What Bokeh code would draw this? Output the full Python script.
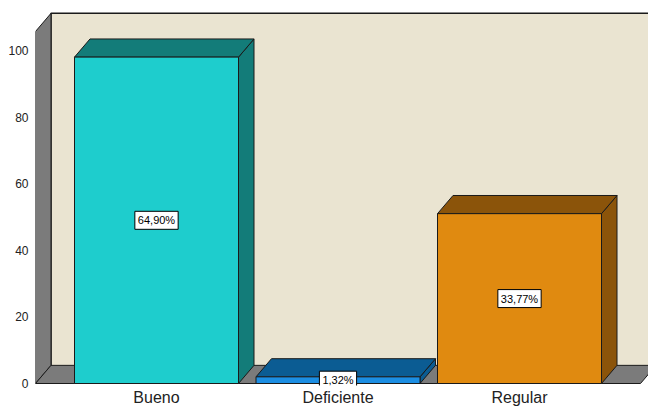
from bokeh.plotting import figure
from bokeh.models import Range1d, FixedTicker, ColumnDataSource
from bokeh.core.properties import value
from bokeh.embed import file_html
from bokeh.resources import INLINE

# ---- data ----
categories = ["Bueno", "Deficiente", "Regular"]
counts = [98, 2, 51]
y_ticks = [0, 20, 40, 60, 80, 100]
front_colors = ["#1ECDCD", "#1C8EE3", "#E08A10"]
dark_colors = ["#137C79", "#0B5C93", "#8B540A"]

total = sum(counts)
pct_labels = [("%.2f" % (c / total * 100)).replace(".", ",") + "%" for c in counts]

# ---- layout constants (pixel-based x, value-based y) ----
W, H = 648, 408
left_px = 35
zero_px = 384          # pixel row of value 0
bottom_px = 22
ymax = 115.0
px_per_unit = zero_px / ymax
ymin = -((H - bottom_px) - zero_px) / px_per_unit
dx = 15.5                    # depth offset in x (pixels)
dy = 18.2 / px_per_unit      # depth offset in y (value units)
wall_top = 105.7
bar_w = 164
first_center = 156
spacing = 181.5

p = figure(width=W, height=H, output_backend="svg", toolbar_location=None,
           x_range=Range1d(left_px, W), y_range=Range1d(ymin, ymax),
           min_border_left=left_px, min_border_right=0, min_border_top=0,
           min_border_bottom=bottom_px, outline_line_color=None,
           background_fill_color="white", border_fill_color="white")
p.grid.visible = False

line_c = "#1A1A1A"
wall_c = "#7B7B7B"
back_c = "#EAE4D1"

# back wall
x_back = left_px + dx
p.patch([x_back, W + 20, W + 20, x_back],
        [dy, dy, wall_top + dy, wall_top + dy],
        fill_color=back_c, line_color=None)
p.line([x_back, x_back, W + 20], [dy, wall_top + dy, wall_top + dy],
       line_color=line_c, line_width=1.5)
# left wall
p.patch([left_px, left_px, x_back, x_back], [0, wall_top, wall_top + dy, dy],
        fill_color=wall_c, line_color=line_c, line_width=1)
# floor
floor_right = 640
p.patch([left_px, floor_right, floor_right + dx, x_back], [0, 0, dy, dy],
        fill_color=wall_c, line_color=line_c, line_width=1)

centers = [first_center + i * spacing for i in range(len(categories))]
for c, v, fc, dc in zip(centers, counts, front_colors, dark_colors):
    xl, xr = c - bar_w / 2, c + bar_w / 2
    # side
    p.patch([xr, xr + dx, xr + dx, xr], [0, dy, v + dy, v],
            fill_color=dc, line_color=line_c, line_width=1)
    # top
    p.patch([xl, xr, xr + dx, xl + dx], [v, v, v + dy, v + dy],
            fill_color=dc, line_color=line_c, line_width=1)
    # front
    p.patch([xl, xr, xr, xl], [0, 0, v, v],
            fill_color=fc, line_color=line_c, line_width=1)

src = ColumnDataSource(dict(x=centers, y=[v / 2 for v in counts], t=pct_labels))
p.text(x="x", y="y", text="t", source=src, text_align="center",
       text_baseline="middle", text_font=value("Liberation Sans"),
       text_font_size="11px", text_color="black",
       background_fill_color="white", border_line_color="black",
       border_line_width=1, padding=3)

# axes
p.yaxis.ticker = FixedTicker(ticks=y_ticks)
p.yaxis.axis_line_color = None
p.yaxis.major_tick_line_color = None
p.yaxis.major_tick_out = 0
p.yaxis.major_tick_in = 0
p.yaxis.minor_tick_line_color = None
p.yaxis.major_label_standoff = 7
p.yaxis.major_label_text_font = "Liberation Sans"
p.yaxis.major_label_text_font_size = "12px"
p.yaxis.major_label_text_color = "#222222"

p.xaxis.ticker = FixedTicker(ticks=centers)
p.xaxis.major_label_overrides = {c: cat for c, cat in zip(centers, categories)}
p.xaxis.axis_line_color = None
p.xaxis.major_tick_line_color = None
p.xaxis.major_tick_out = 0
p.xaxis.major_tick_in = 0
p.xaxis.minor_tick_line_color = None
p.xaxis.major_label_standoff = 3
p.xaxis.major_label_text_font = "Liberation Sans"
p.xaxis.major_label_text_font_size = "16px"
p.xaxis.major_label_text_color = "#222222"

open("out.html", "w").write(file_html(p, INLINE))
